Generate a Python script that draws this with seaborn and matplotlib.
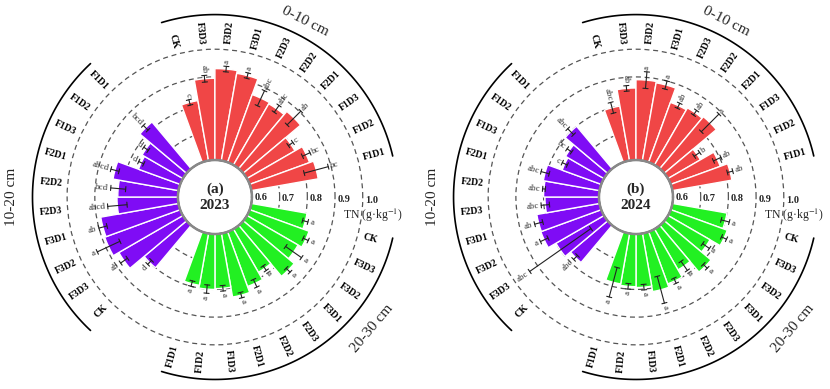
import numpy as np
import pandas as pd
import matplotlib.pyplot as plt
import seaborn as sns

sns.set_theme(style='white')
plt.rcParams['font.family'] = ['Liberation Serif', 'DejaVu Serif']
plt.rcParams['mathtext.fontset'] = 'stix'

# treatments in clockwise order inside each depth group
treatments = ['CK', 'F3D3', 'F3D2', 'F3D1', 'F2D3', 'F2D2', 'F2D1', 'F1D3', 'F1D2', 'F1D1']
depths = ['0-10 cm', '10-20 cm', '20-30 cm']

# 2023
tn23_0_10 = [0.82, 0.895, 0.93, 0.92, 0.86, 0.855, 0.87, 0.80, 0.83, 0.845]
err23_0_10 = [0.01, 0.012, 0.01, 0.01, 0.03, 0.015, 0.035, 0.01, 0.015, 0.045]
sig23_0_10 = ['c', 'ab', 'a', 'a', 'abc', 'abc', 'ab', 'c', 'bc', 'bc']
tn23_10_20 = [0.80, 0.867, 0.89, 0.885, 0.82, 0.817, 0.84, 0.76, 0.77, 0.82]
err23_10_20 = [0.01, 0.015, 0.045, 0.015, 0.035, 0.027, 0.015, 0.01, 0.01, 0.012]
sig23_10_20 = ['d', 'ab', 'a', 'ab', 'abcd', 'bcd', 'abcd', 'd', 'd', 'bcd']
tn23_20_30 = [0.804, 0.828, 0.813, 0.84, 0.78, 0.81, 0.833, 0.797, 0.80, 0.79]
err23_20_30 = [0.01, 0.01, 0.035, 0.01, 0.01, 0.015, 0.01, 0.01, 0.015, 0.01]
sig23_20_30 = ['a'] * 10

# 2024
tn24_0_10 = [0.80, 0.86, 0.89, 0.885, 0.83, 0.838, 0.845, 0.735, 0.79, 0.818]
err24_0_10 = [0.02, 0.01, 0.03, 0.015, 0.01, 0.01, 0.045, 0.012, 0.015, 0.01]
sig24_0_10 = ['abc', 'ab', 'a', 'a', 'ab', 'ab', 'a', 'b', 'ab', 'ab']
tn24_10_20 = [0.775, 0.80, 0.832, 0.83, 0.795, 0.80, 0.806, 0.75, 0.76, 0.80]
err24_10_20 = [0.01, 0.135, 0.015, 0.015, 0.015, 0.005, 0.015, 0.01, 0.01, 0.015]
sig24_10_20 = ['abc', 'abc', 'a', 'ab', 'abc', 'abc', 'abc', 'c', 'bc', 'abc']
tn24_20_30 = [0.80, 0.817, 0.775, 0.82, 0.77, 0.80, 0.813, 0.793, 0.79, 0.785]
err24_20_30 = [0.015, 0.01, 0.015, 0.01, 0.02, 0.01, 0.05, 0.01, 0.01, 0.055]
sig24_20_30 = ['a'] * 10

depth_colors = {'0-10 cm': '#f04646', '10-20 cm': '#7f0cf5', '20-30 cm': '#22f022'}
# position of each group around the circle (clockwise)
group_slot = {'0-10 cm': 0, '20-30 cm': 1, '10-20 cm': 2}
depth_label_pos = {'0-10 cm': (63, 1.18, -27), '10-20 cm': (180, 1.20, 90), '20-30 cm': (-40, 1.205, 50)}

R0 = 0.6
RORIGIN = 0.4664
PX_PER_UNIT = 277  # roughly, used only for cap width


def build_df(vals, errs, sigs):
    rows = []
    for d in depths:
        for t, v, e, s in zip(treatments, vals[d], errs[d], sigs[d]):
            rows.append({'depth': d, 'treatment': t, 'tn': v, 'err': e, 'sig': s})
    df = pd.DataFrame(rows)
    df['slot'] = df['depth'].map(group_slot) * 12 + df.groupby('depth').cumcount()
    df['theta'] = np.deg2rad(105 - 10 * df['slot'])
    return df


def radial_rot(theta_deg):
    a = (theta_deg + 180) % 360 - 180
    if -90 <= a <= 90:
        return a, 'left'
    return a - 180 if a > 0 else a + 180, 'right'


def draw_panel(ax, df, tag, year):
    ax.set_ylim(R0, 1.15)
    ax.set_rorigin(RORIGIN)
    ax.set_xticks([])
    ax.set_yticks([0.7, 0.8, 0.9, 1.0])
    ax.set_yticklabels([])
    ax.tick_params(axis='y', length=0)
    ax.yaxis.grid(True, linestyle=(0, (4, 3)), color='#555555', linewidth=0.9)
    ax.set_axisbelow(True)
    for sp in ax.spines.values():
        sp.set_visible(False)

    cols = df['depth'].map(depth_colors)
    ax.bar(df['theta'], df['tn'] - R0, width=np.deg2rad(10), bottom=R0,
           color=cols, edgecolor='white', linewidth=1.0, zorder=2)

    # error bars with tangential caps
    for _, row in df.iterrows():
        th, v, e = row['theta'], row['tn'], row['err']
        ax.plot([th, th], [v - e, v + e], color='#222222', lw=0.8, zorder=3)
        for r in (v - e, v + e):
            dth = 2.6 / ((r - RORIGIN) * PX_PER_UNIT)
            ax.plot([th - dth, th + dth], [r, r], color='#222222', lw=0.8, zorder=3)

    # significance letters and treatment names
    for _, row in df.iterrows():
        deg = np.rad2deg(row['theta'])
        rot, ha = radial_rot(deg)
        ax.text(row['theta'], row['tn'] + row['err'] + 0.008, row['sig'], rotation=rot,
                rotation_mode='anchor', ha=ha, va='center', fontsize=6.5, color='#333333')
        ax.text(row['theta'], 1.02, row['treatment'], rotation=rot, rotation_mode='anchor',
                ha=ha, va='center', fontsize=7, fontweight='bold', color='black')

    # inner circle
    tt = np.linspace(0, 2 * np.pi, 400)
    ax.plot(tt, np.full_like(tt, R0), color='#888888', lw=1.8, zorder=4, clip_on=False)

    # depth arcs and labels
    for d in depths:
        sub = df[df['depth'] == d]
        t1, t2 = sub['theta'].max() + np.deg2rad(2), sub['theta'].min() - np.deg2rad(2)
        arc = np.linspace(t1, t2, 100)
        ax.plot(arc, np.full_like(arc, 1.125), color='black', lw=1.2, clip_on=False)
        a, r, rot = depth_label_pos[d]
        ax.text(np.deg2rad(a), r, d, rotation=rot, rotation_mode='anchor', ha='center',
                va='center', fontsize=11)

    # radial scale labels
    for v in [0.6, 0.7, 0.8, 0.9, 1.0]:
        ax.text(-0.02, v + 0.008, f'{v:.1f}', ha='left', va='center', fontsize=7.5,
                fontweight='bold')
    ax.text(np.deg2rad(-6.5), 1.04, 'TN (g·kg$^{-1}$)', ha='center', va='center', fontsize=8.5)
    ax.text(0.5, 0.5, f'({tag})\n{year}', transform=ax.transAxes, ha='center', va='center',
            fontsize=11, fontweight='bold', linespacing=1.3)


fig = plt.figure(figsize=(8.3, 3.89), dpi=100)
ax1 = fig.add_axes([0.0308, 0.0067, 0.4563, 0.9736], projection='polar')
ax2 = fig.add_axes([0.5381, 0.0067, 0.4563, 0.9736], projection='polar')

df23 = build_df({'0-10 cm': tn23_0_10, '10-20 cm': tn23_10_20, '20-30 cm': tn23_20_30},
                {'0-10 cm': err23_0_10, '10-20 cm': err23_10_20, '20-30 cm': err23_20_30},
                {'0-10 cm': sig23_0_10, '10-20 cm': sig23_10_20, '20-30 cm': sig23_20_30})
df24 = build_df({'0-10 cm': tn24_0_10, '10-20 cm': tn24_10_20, '20-30 cm': tn24_20_30},
                {'0-10 cm': err24_0_10, '10-20 cm': err24_10_20, '20-30 cm': err24_20_30},
                {'0-10 cm': sig24_0_10, '10-20 cm': sig24_10_20, '20-30 cm': sig24_20_30})

draw_panel(ax1, df23, 'a', 2023)
draw_panel(ax2, df24, 'b', 2024)

fig.savefig('out.png', dpi=100)
